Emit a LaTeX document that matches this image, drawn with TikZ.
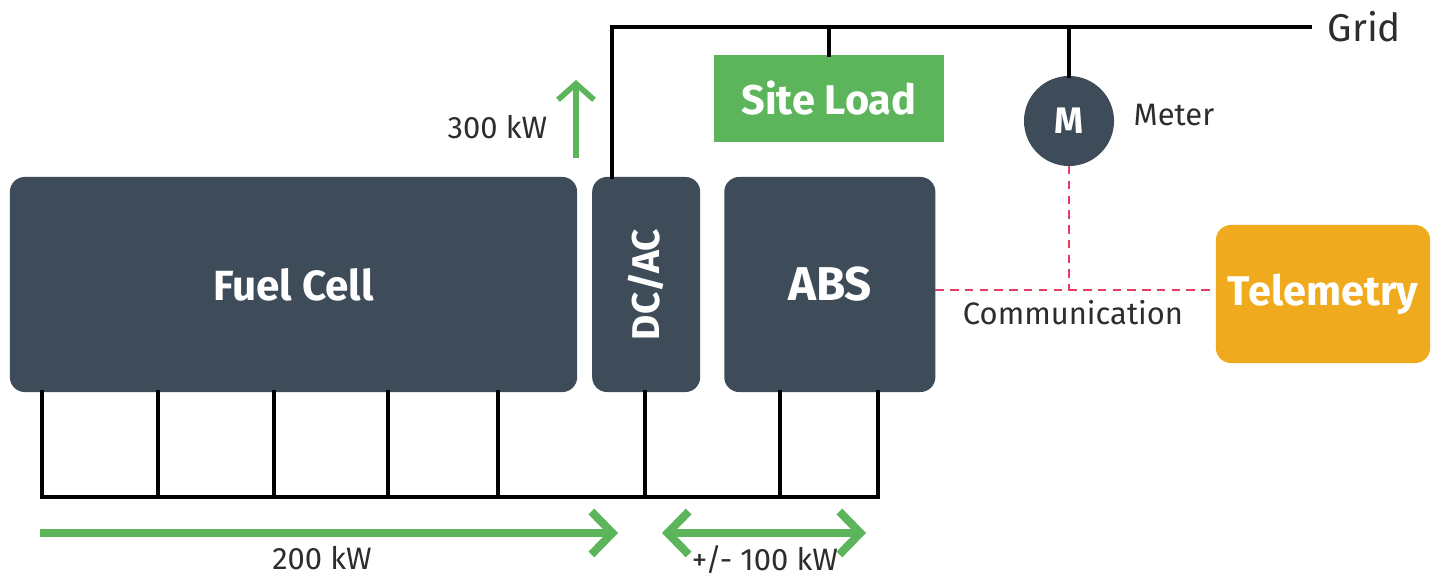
\documentclass[tikz,border=0pt]{standalone}
\usepackage{fontspec}
\setmainfont{Fira Sans}
\usetikzlibrary{arrows.meta, positioning}

\definecolor{slate}{RGB}{62,76,89}
\definecolor{flowgreen}{RGB}{92,181,90}
\definecolor{teleorange}{RGB}{240,170,30}
\definecolor{commred}{RGB}{228,60,100}
\definecolor{labelgrey}{RGB}{45,45,45}

\begin{document}
\begin{tikzpicture}[x=0.01cm, y=-0.01cm, node distance=0.15cm,
    box/.style={fill=slate, text=white, rounded corners=0.15cm, minimum height=2.15cm,
        inner sep=0pt, outer sep=0pt, font=\bfseries\fontsize{12}{14}\selectfont},
    wire/.style={line width=0.9pt, line cap=rect},
    comm/.style={draw=commred, line width=0.5pt, dash pattern=on 2.4pt off 1.8pt},
    flow/.style={draw=flowgreen, line width=2.3pt},
    barb/.tip={Straight Barb[length=2.1mm, width=4.3mm]},
    lbl/.style={text=labelgrey, font=\fontsize{8.8}{11}\selectfont}]
    \useasboundingbox (0,0) rectangle (1431,576);

    % main boxes
    \node[box, minimum width=5.67cm] (fuel) at (293.5,284.5) {Fuel Cell};
    \node[box, minimum width=1.08cm, right=0.15cm of fuel, font=\bfseries\fontsize{11}{13}\selectfont] (dcac)
        {\rotatebox{90}{DC/AC}};
    \node[box, minimum width=2.11cm, right=0.24cm of dcac, font=\bfseries\fontsize{13.5}{15}\selectfont] (abs) {ABS};

    \node[fill=flowgreen, text=white, minimum width=2.30cm, minimum height=0.87cm,
        inner sep=0pt, outer sep=0pt, font=\bfseries\fontsize{11.8}{14}\selectfont] (load) at (829,98.5) {Site Load};
    \node[circle, fill=slate, text=white, minimum size=0.9cm, inner sep=0pt, outer sep=0pt,
        font=\bfseries\fontsize{10.5}{12}\selectfont] (meter) at (1069,121) {M};
    \node[fill=teleorange, text=white, rounded corners=0.15cm, minimum width=2.14cm,
        minimum height=1.38cm, inner sep=0pt, outer sep=0pt, font=\bfseries\fontsize{11.8}{14}\selectfont]
        (tele) at (1323,294) {Telemetry};

    % grid bus
    \coordinate (gridend) at (1310,27);
    \node[anchor=west, text=labelgrey, inner sep=0pt, font=\fontsize{11}{13}\selectfont] (grid)
        at ([xshift=0.17cm]gridend) {Grid};
    \draw[wire] (dcac.north -| 612,0) |- (gridend);
    \draw[wire] (load.north) -- (load.north |- gridend);
    \draw[wire] (meter.north) -- (meter.north |- gridend);
    \node[lbl, anchor=west, inner sep=0pt] (meterlbl) at (1133,115) {Meter};

    % communication
    \coordinate (tap) at (1069,290);
    \draw[comm] (abs.east |- tap) -- (tele.west |- tap);
    \draw[comm] (meter.south) -- (tap);
    \node[lbl] (commlbl) at (1073,313) {Communication};

    % dc bus
    \coordinate (busL) at (42,497);
    \coordinate (busR) at (878,497);
    \draw[wire] (busL) -- (busR);
    \foreach \x in {42,158,274,388,498}
        \draw[wire] (fuel.south -| \x,0) -- (busL -| \x,0);
    \draw[wire] (dcac.south -| 645,0) -- (busL -| 645,0);
    \foreach \x in {780,878}
        \draw[wire] (abs.south -| \x,0) -- (busL -| \x,0);

    % power flows
    \coordinate (upS) at (576,158);
    \coordinate (upE) at (576,80);
    \draw[flow, line width=1.6pt, -{Straight Barb[length=1.6mm, width=3.6mm]}] (upS) -- (upE);
    \node[lbl, anchor=east, inner sep=0pt] (upkw) at (548,127) {300 kW};

    \coordinate (fcS) at (40,533);
    \coordinate (fcE) at (618,533);
    \draw[flow, -barb] (fcS) -- (fcE);
    \node[lbl] (fckw) at (322,558) {200 kW};

    \coordinate (absS) at (662,533);
    \coordinate (absE) at (866,533);
    \draw[flow, barb-barb] (absS) -- (absE);
    \node[lbl] (abskw) at (765,560) {+/- 100 kW};
\end{tikzpicture}
\end{document}
